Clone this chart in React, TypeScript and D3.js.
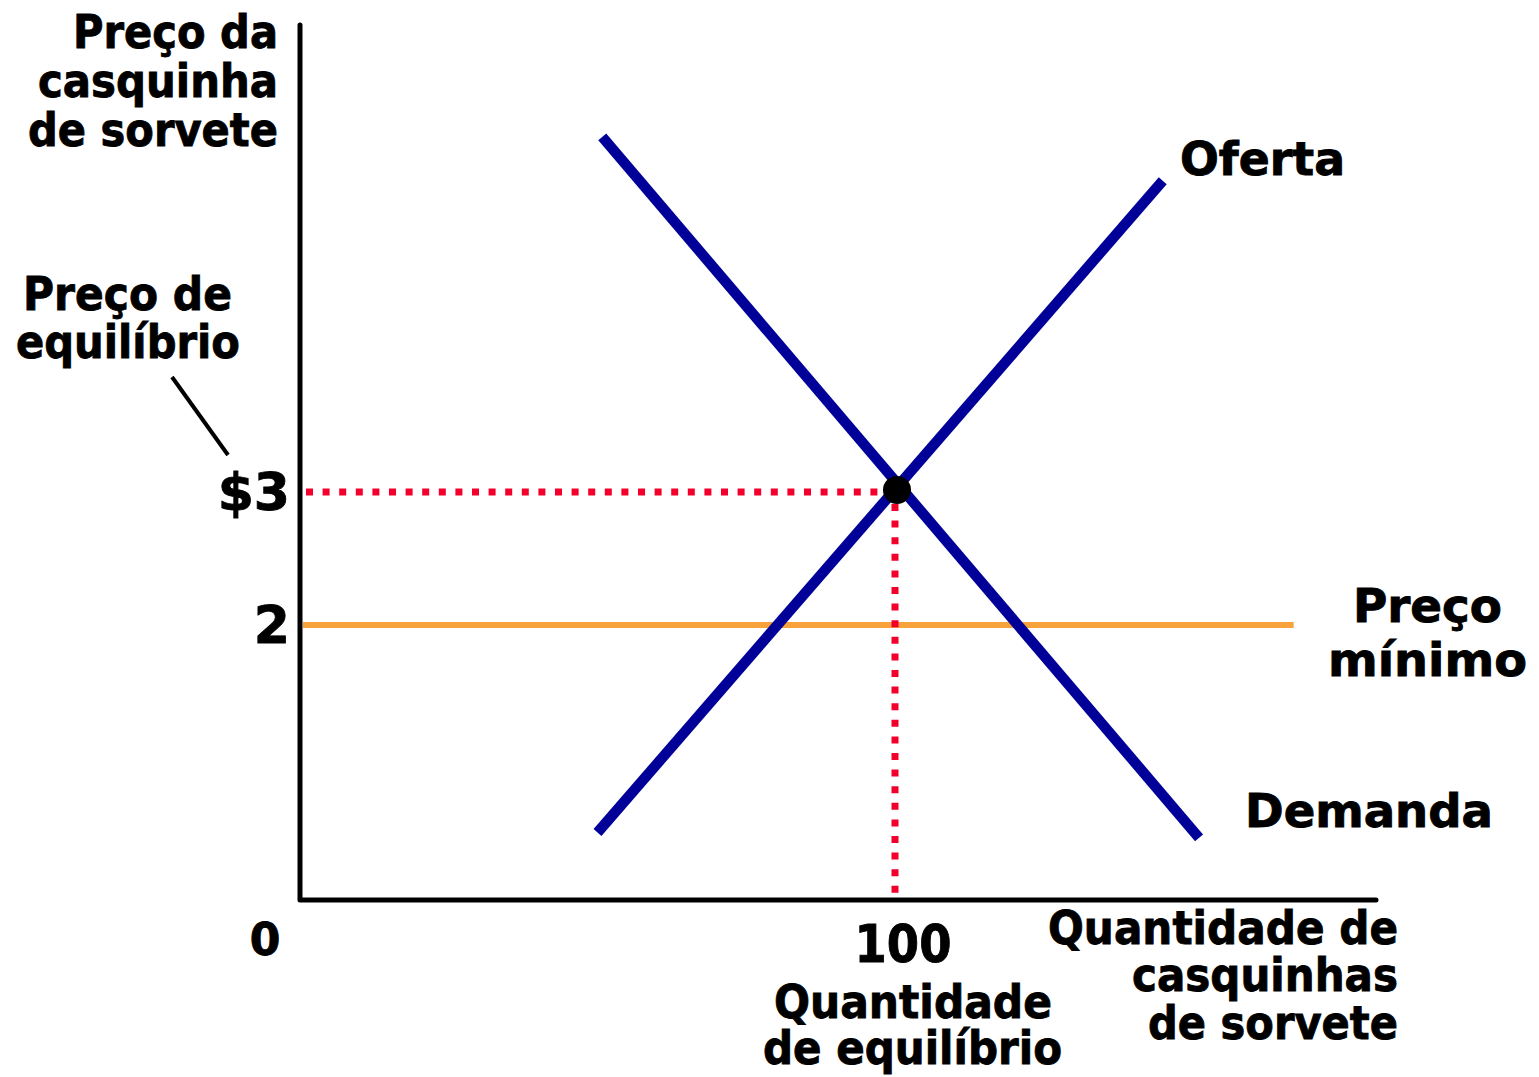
import React from 'react';
import * as d3 from 'd3';

// market data (quantity, price)
const supplyQ = [50, 145];
const supplyP = [0.44, 5.34];
const demandQ = [50.8, 151.1];
const demandP = [5.67, 0.4];
const eqQ = 100;
const eqP = 3;
const floorP = 2;
const floorQ = [0.5, 167];

// tick labels
const priceTicks = [{ v: 3, label: '$3' }, { v: 2, label: '2' }];
const qtyTicks = [{ v: 100, label: '100' }];

const W = 1539, H = 1077;
const FONT = '"DejaVu Sans", Verdana, sans-serif';

type Line = { t: string; x: number; y: number; len?: number; size?: number; anchor?: string };

const labels: Line[] = [
    { t: 'Preço da', x: 278, y: 48, len: 205, anchor: 'end' },
    { t: 'casquinha', x: 278, y: 97, len: 240, anchor: 'end' },
    { t: 'de sorvete', x: 278, y: 146, len: 250, anchor: 'end' },
    { t: 'Preço de', x: 23, y: 310, len: 209 },
    { t: 'equilíbrio', x: 16, y: 358, len: 224 },
    { t: 'Oferta', x: 1180, y: 175, len: 165 },
    { t: 'Demanda', x: 1245, y: 827, len: 248 },
    { t: 'Preço', x: 1353, y: 622, len: 149 },
    { t: 'mínimo', x: 1328, y: 676, len: 199 },
    { t: 'Quantidade', x: 774, y: 1018, len: 278 },
    { t: 'de equilíbrio', x: 763, y: 1064, len: 299 },
    { t: 'Quantidade de', x: 1398, y: 944, len: 350, anchor: 'end' },
    { t: 'casquinhas', x: 1398, y: 991, len: 266, anchor: 'end' },
    { t: 'de sorvete', x: 1398, y: 1039, len: 250, anchor: 'end' },
];

export default function App() {
    const x = d3.scaleLinear().domain([0, 100]).range([300, 895]);
    const y = d3.scaleLinear().domain([2, 3]).range([625, 492]);

    const line = d3.line<[number, number]>().x(d => x(d[0])).y(d => y(d[1]));
    const supply = line(supplyQ.map((q, i) => [q, supplyP[i]]));
    const demand = line(demandQ.map((q, i) => [q, demandP[i]]));

    const axisLeft = 300, axisBottom = 900, axisTop = 25, axisRight = 1376;

    return (
        <svg width={W} height={H} style={{ position: 'absolute', left: 0, top: 0 }}
             fontFamily={FONT} fontWeight="bold">
            <rect width={W} height={H} fill="#fff"/>

            {/* axes */}
            <path d={`M${axisLeft},${axisTop}V${axisBottom}H${axisRight}`}
                  fill="none" stroke="#000" strokeWidth={5} strokeLinecap="round" strokeLinejoin="round"/>

            {/* price floor */}
            <line x1={x(floorQ[0])} x2={x(floorQ[1])} y1={y(floorP)} y2={y(floorP)}
                  stroke="#F7A23A" strokeWidth={6}/>

            {/* equilibrium guides */}
            <line x1={axisLeft + 6} x2={x(eqQ)} y1={y(eqP)} y2={y(eqP)}
                  stroke="#F2002B" strokeWidth={7} strokeDasharray="7 9.6"/>
            <line x1={x(eqQ)} x2={x(eqQ)} y1={y(eqP) + 12} y2={axisBottom - 3}
                  stroke="#F2002B" strokeWidth={7} strokeDasharray="7 9.6"/>

            {/* curves */}
            <path d={supply || ''} fill="none" stroke="#000099" strokeWidth={10.5}/>
            <path d={demand || ''} fill="none" stroke="#000099" strokeWidth={10.5}/>

            <circle cx={x(eqQ) + 2} cy={y(eqP) - 2} r={14} fill="#000"/>

            {/* leader line */}
            <line x1={172} y1={377} x2={228} y2={455} stroke="#000" strokeWidth={4}/>

            <g stroke="#000" strokeWidth={0.9}>
                {/* tick labels */}
                {priceTicks.map(t => (
                    <text key={t.label} x={290} y={y(t.v) + 18} fontSize={52} textAnchor="end">{t.label}</text>
                ))}
                {qtyTicks.map(t => (
                    <text key={t.label} x={x(t.v) + 8} y={962} fontSize={52} textAnchor="middle"
                          textLength={97} lengthAdjust="spacingAndGlyphs">{t.label}</text>
                ))}
                <text x={265} y={955} fontSize={44} textAnchor="middle">0</text>

                {labels.map(l => (
                    <text key={l.t + l.y} x={l.x} y={l.y} fontSize={l.size || 47}
                          textAnchor={l.anchor || 'start'}
                          textLength={l.len} lengthAdjust="spacingAndGlyphs">{l.t}</text>
                ))}
            </g>
        </svg>
    );
}
